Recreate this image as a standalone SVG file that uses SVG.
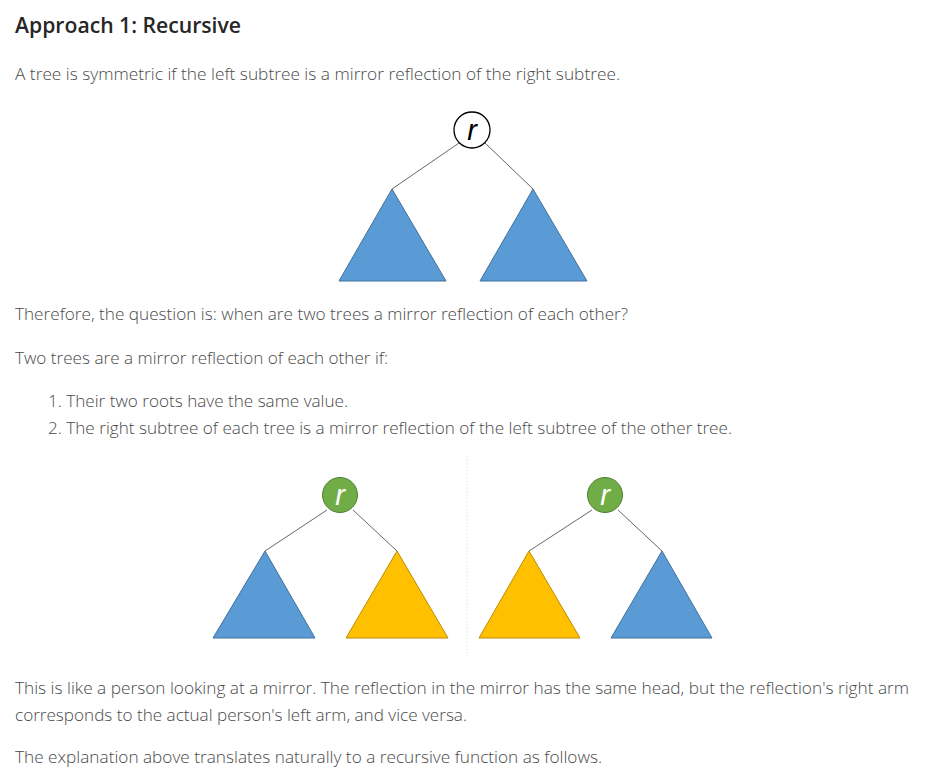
<svg xmlns="http://www.w3.org/2000/svg" width="936" height="778" viewBox="0 0 936 778">
<style>
.t{font-family:"Open Sans","Noto Sans","Liberation Sans",sans-serif;font-size:16px;font-weight:300;fill:#4a4a4a}
.h{font-family:"Open Sans","Noto Sans","Liberation Sans",sans-serif;font-size:21px;font-weight:600;fill:#262626}
.edge{stroke:#404040;stroke-width:0.8;fill:none}
.blue{fill:#5b9bd5;stroke:#41719c;stroke-width:1}
.yellow{fill:#ffc000;stroke:#bc8c00;stroke-width:1}
.rw{fill:#ffffff;stroke:#000000;stroke-width:1.3}
.rg{fill:#70ad47;stroke:#507e32;stroke-width:1}
.lbl{font-family:"Liberation Sans",Arial,sans-serif;font-style:italic;font-size:29px;text-anchor:middle}
</style>
<rect width="936" height="778" fill="#ffffff"/>
<g id="texts">
<text class="h" x="15" y="33" textLength="226" lengthAdjust="spacingAndGlyphs">Approach 1: Recursive</text>
<text class="t" x="15" y="80" textLength="605" lengthAdjust="spacingAndGlyphs">A tree is symmetric if the left subtree is a mirror reflection of the right subtree.</text>
<text class="t" x="15" y="320" textLength="613" lengthAdjust="spacingAndGlyphs">Therefore, the question is: when are two trees a mirror reflection of each other?</text>
<text class="t" x="15" y="364" textLength="373" lengthAdjust="spacingAndGlyphs">Two trees are a mirror reflection of each other if:</text>
<text class="t" x="48" y="407" textLength="300" lengthAdjust="spacingAndGlyphs">1. Their two roots have the same value.</text>
<text class="t" x="48" y="434" textLength="684" lengthAdjust="spacingAndGlyphs">2. The right subtree of each tree is a mirror reflection of the left subtree of the other tree.</text>
<text class="t" x="15" y="694" textLength="894" lengthAdjust="spacingAndGlyphs">This is like a person looking at a mirror. The reflection in the mirror has the same head, but the reflection's right arm</text>
<text class="t" x="15" y="721" textLength="452" lengthAdjust="spacingAndGlyphs">corresponds to the actual person's left arm, and vice versa.</text>
<text class="t" x="15" y="763" textLength="587" lengthAdjust="spacingAndGlyphs">The explanation above translates naturally to a recursive function as follows.</text>
</g>
<g id="connectors">
<line class="edge" x1="459" y1="143" x2="392" y2="189"/>
<line class="edge" x1="485" y1="143" x2="533" y2="189"/>
<line class="edge" x1="327" y1="510" x2="265" y2="551"/>
<line class="edge" x1="353" y1="510" x2="397" y2="551"/>
<line class="edge" x1="592" y1="510" x2="529" y2="551"/>
<line class="edge" x1="618" y1="510" x2="662" y2="551"/>
</g>
<line x1="467" y1="456" x2="467" y2="656" stroke="#dbe6f0" stroke-width="1" stroke-dasharray="1.5,2"/>
<g id="tree1">
<polygon class="blue" points="339,281 392,189 446,281"/>
<polygon class="blue" points="480,281 533,189 587,281"/>
</g>
<g id="root1">
<circle class="rw" cx="472" cy="130" r="18"/>
<text class="lbl" x="472" y="140" fill="#000000">r</text>
</g>
<g id="tree2">
<polygon class="blue" points="213,638 265,551 315,638"/>
<polygon class="yellow" points="346,638 397,551 448,638"/>
</g>
<g id="root2">
<circle class="rg" cx="340" cy="495" r="17.5"/>
<text class="lbl" x="340" y="505" fill="#ffffff">r</text>
</g>
<g id="tree3">
<polygon class="yellow" points="479,638 529,551 580,638"/>
<polygon class="blue" points="611,638 662,551 712,638"/>
</g>
<g id="root3">
<circle class="rg" cx="605" cy="495" r="17.5"/>
<text class="lbl" x="605" y="505" fill="#ffffff">r</text>
</g>
</svg>
